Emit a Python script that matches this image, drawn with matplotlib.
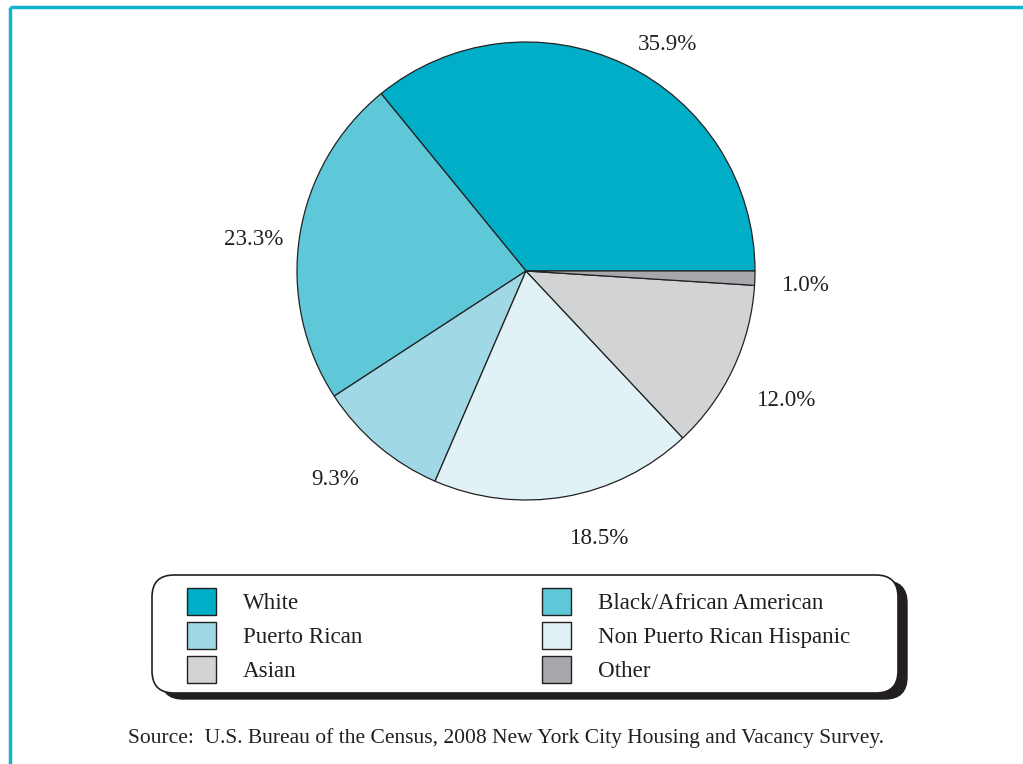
import matplotlib
matplotlib.use("Agg")
import matplotlib.pyplot as plt
from matplotlib.patches import FancyBboxPatch, Rectangle

# share of households by race/ethnicity (percent)
groups = ["White", "Black/African American", "Puerto Rican",
          "Non Puerto Rican Hispanic", "Asian", "Other"]
shares = [35.9, 23.3, 9.3, 18.5, 12.0, 1.0]
colors = ["#00aec7", "#5ec7d8", "#a0d9e5", "#e0f2f6", "#d1d3d4", "#a6a8ab"]
source = "Source:  U.S. Bureau of the Census, 2008 New York City Housing and Vacancy Survey."

W, H = 1023, 764
plt.rcParams["font.family"] = ["Liberation Serif", "DejaVu Serif"]

fig = plt.figure(figsize=(W / 100, H / 100), dpi=100)

# overlay axes in pixel units for frame, legend and source note
bg = fig.add_axes([0, 0, 1, 1])
bg.set_xlim(0, W)
bg.set_ylim(H, 0)
bg.axis("off")

teal = "#12b5cc"
bg.plot([9.5, W], [6.5, 6.5], color=teal, lw=2.5, solid_capstyle="butt")
bg.plot([9.5, 9.5], [6.5, H], color=teal, lw=2.5, solid_capstyle="butt")

# pie
cx, cy, r = 526, 271, 229
pax = fig.add_axes([(cx - r) / W, (H - cy - r) / H, 2 * r / W, 2 * r / H])
pax.pie(shares, colors=colors, startangle=0, counterclock=True, radius=1,
        wedgeprops=dict(edgecolor="#222222", linewidth=0.9))
pax.set_xlim(-1.0, 1.0)
pax.set_ylim(-1.0, 1.0)
pax.set_aspect("equal")
pax.axis("off")

label_pos = [(0.616, 0.99), (-1.19, 0.138), (-0.834, -0.91),
             (0.323, -1.17), (1.14, -0.565), (1.223, -0.062)]
for v, (lx, ly) in zip(shares, label_pos):
    pax.text(lx, ly, f"{v:.1f}%", ha="center", va="center", fontsize=16.6,
             color="#231f20", clip_on=False)

# legend box with drop shadow
bx0, by0, bx1, by1 = 152, 575, 898, 693
shadow = FancyBboxPatch((bx0 + 9, by0 + 6), bx1 - bx0, by1 - by0,
                        boxstyle="round,pad=0,rounding_size=22",
                        fc="#231f20", ec="#231f20", lw=1)
box = FancyBboxPatch((bx0, by0), bx1 - bx0, by1 - by0,
                     boxstyle="round,pad=0,rounding_size=22",
                     fc="white", ec="#231f20", lw=1.2)
bg.add_patch(shadow)
bg.add_patch(box)

col_x = [187, 542]
row_y = [601, 635, 669]
for i, (name, c) in enumerate(zip(groups, colors)):
    x = col_x[i % 2]
    y = row_y[i // 2]
    bg.add_patch(Rectangle((x, y - 13.5), 29, 27, fc=c, ec="#231f20", lw=1))
    bg.text(x + 56, y + 2.5, name, ha="left", va="center", fontsize=16.6,
            color="#231f20")

bg.text(506, 738.5, source, ha="center", va="center", fontsize=15.5,
        color="#231f20")

fig.savefig("out.png", dpi=100)
